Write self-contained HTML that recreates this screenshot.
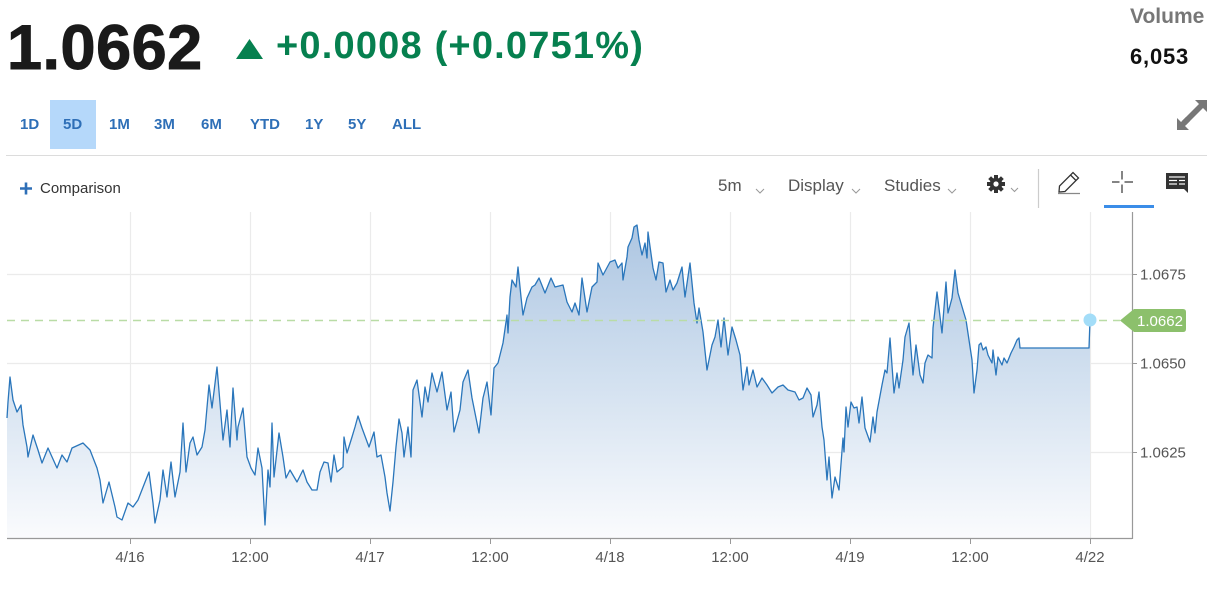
<!DOCTYPE html>
<html><head><meta charset="utf-8">
<style>
html,body{margin:0;padding:0;background:#fff;}
body{width:1212px;height:590px;position:relative;overflow:hidden;font-family:"Liberation Sans",Arial,sans-serif;}
.a{position:absolute;white-space:nowrap;}
.big{left:7px;top:17px;font-size:63px;line-height:63px;font-weight:bold;color:#1a1a1a;letter-spacing:0.5px;-webkit-text-stroke:1px #1a1a1a;}
.chg{left:276px;top:27px;font-size:38px;line-height:38px;font-weight:bold;color:#06804f;letter-spacing:1.2px;}
.rng{top:117px;font-size:15px;line-height:15px;font-weight:bold;color:#2e6fb7;}
.tb{top:177px;font-size:17px;line-height:17px;color:#555;}
</style></head><body>
<div class="a big">1.0662</div>
<svg class="a" style="left:236px;top:39px" width="28" height="21"><polygon points="13.5,0 27,20 0,20" fill="#06804f"/></svg>
<div class="a chg">+0.0008 (+0.0751%)</div>
<div class="a" style="left:1130px;top:6px;font-size:21px;line-height:21px;font-weight:bold;color:#777;">Volume</div>
<div class="a" style="left:1130px;top:46px;font-size:22px;line-height:22px;font-weight:bold;color:#111;letter-spacing:0.8px;">6,053</div>

<div class="a" style="left:50px;top:100px;width:46px;height:49px;background:#b5d8fa;"></div>
<div class="a rng" style="left:20px;">1D</div>
<div class="a rng" style="left:63px;">5D</div>
<div class="a rng" style="left:109px;">1M</div>
<div class="a rng" style="left:154px;">3M</div>
<div class="a rng" style="left:201px;">6M</div>
<div class="a rng" style="left:250px;">YTD</div>
<div class="a rng" style="left:305px;">1Y</div>
<div class="a rng" style="left:348px;">5Y</div>
<div class="a rng" style="left:392px;">ALL</div>
<div class="a" style="left:6px;top:155px;width:1201px;height:1px;background:#dcdcdc;"></div>

<div class="a" style="left:40px;top:181px;font-size:15px;line-height:15px;color:#333;">Comparison</div>
<div class="a tb" style="left:718px;">5m</div>
<div class="a tb" style="left:788px;">Display</div>
<div class="a tb" style="left:884px;">Studies</div>

<svg class="a" style="left:0;top:0" width="1212" height="590" xmlns="http://www.w3.org/2000/svg">
<defs>
<linearGradient id="g" x1="0" y1="225" x2="0" y2="538" gradientUnits="userSpaceOnUse">
<stop offset="0" stop-color="#adc6e2"/>
<stop offset="0.5" stop-color="#d3e1f0"/>
<stop offset="1" stop-color="#fafbfd"/>
</linearGradient>
</defs>
<!-- plus -->
<path d="M20 188.5H32M26 182.5V194.5" stroke="#2e6fb7" stroke-width="2.6"/>
<!-- chevrons -->
<g fill="none" stroke="#999" stroke-width="1">
<polyline points="756,189 760,193 764,189"/>
<polyline points="852,189 856,193 860,189"/>
<polyline points="948,189 952,193 956,189"/>
<polyline points="1011,188 1014.5,191.5 1018,188"/>
</g>
<!-- gear -->
<g transform="translate(996,184)" fill="#333">
<circle r="6.3"/>
<g>
<rect x="-2" y="-9" width="4" height="18"/>
<rect x="-2" y="-9" width="4" height="18" transform="rotate(45)"/>
<rect x="-2" y="-9" width="4" height="18" transform="rotate(90)"/>
<rect x="-2" y="-9" width="4" height="18" transform="rotate(135)"/>
</g>
<circle r="2.6" fill="#fff"/>
</g>
<line x1="1038.5" y1="169" x2="1038.5" y2="208" stroke="#ccc" stroke-width="1.2"/>
<!-- pencil -->
<g fill="none" stroke="#333" stroke-width="1.3">
<path d="M1059 192 L1059.5 186 L1073 172.5 L1078.5 178 L1065 191.5 Z"/>
<line x1="1070.5" y1="175" x2="1076" y2="180.5"/>
<line x1="1058" y1="193.5" x2="1080" y2="193.5" stroke="#888"/>
</g>
<!-- crosshair -->
<g stroke="#333" stroke-width="1.2">
<line x1="1112" y1="182" x2="1119.5" y2="182"/>
<line x1="1124.5" y1="182" x2="1133" y2="182"/>
<line x1="1122" y1="171" x2="1122" y2="179.5"/>
<line x1="1122" y1="184.5" x2="1122" y2="193"/>
</g>
<rect x="1104" y="205" width="50" height="3" fill="#3b8de8"/>
<!-- comment -->
<path d="M1166 173H1188V193L1184 189H1166Z" fill="#333"/>
<g stroke="#fff" stroke-width="1.2">
<line x1="1169" y1="177" x2="1185" y2="177"/>
<line x1="1169" y1="180.5" x2="1177" y2="180.5"/>
<line x1="1179" y1="180.5" x2="1185" y2="180.5"/>
<line x1="1169" y1="184" x2="1177" y2="184"/>
<line x1="1179" y1="184" x2="1185" y2="184"/>
</g>
<!-- expand -->
<g fill="#777">
<polygon points="1207,100 1207,112 1203,108 1186,125 1182,121 1199,104 1195,100"/>
<polygon points="1177,130 1177,118 1181,122 1186,117 1190,121 1185,126 1189,130"/>
</g>

<!-- grid -->
<g stroke="#ebebeb" stroke-width="1.2">
<line x1="7" y1="274.5" x2="1132" y2="274.5"/>
<line x1="7" y1="363.5" x2="1132" y2="363.5"/>
<line x1="7" y1="452.5" x2="1132" y2="452.5"/>
<line x1="130.5" y1="212" x2="130.5" y2="538"/>
<line x1="250.5" y1="212" x2="250.5" y2="538"/>
<line x1="370.5" y1="212" x2="370.5" y2="538"/>
<line x1="490.5" y1="212" x2="490.5" y2="538"/>
<line x1="610.5" y1="212" x2="610.5" y2="538"/>
<line x1="730.5" y1="212" x2="730.5" y2="538"/>
<line x1="850.5" y1="212" x2="850.5" y2="538"/>
<line x1="970.5" y1="212" x2="970.5" y2="538"/>
<line x1="1090.5" y1="212" x2="1090.5" y2="538"/>
</g>

<path fill="url(#g)" d="M7,538 L7,418 8,402 10,377 13,400 17,412 21,405 23,425 27,447 28,457 33,435 38,450 42,463 48,448 57,468 62,455 67,462 72,448 83,443 90,450 97,468 100,480 103,503 109,482 115,507 117,517 122,520 128,503 133,507 138,500 147,477 149,472 153,503 155,523 160,500 163,470 167,497 171,462 175,497 180,472 183,423 186,472 190,443 193,437 197,455 202,447 205,430 209,385 212,408 217,367 220,403 223,440 227,410 230,447 233,388 237,440 238,427 243,408 247,457 251,468 255,475 258,448 262,468 265,525 268,470 270,487 272,423 274,477 279,433 283,457 286,478 290,470 297,482 303,470 307,482 312,490 317,490 320,472 324,462 328,463 331,482 334,455 337,472 343,467 344,437 347,453 352,437 355,427 358,416 362,428 369,447 374,432 377,457 381,455 385,477 387,493 390,511 393,482 396,447 399,419 402,433 404,457 408,427 411,457 413,390 417,380 422,417 425,387 428,402 432,373 437,392 442,372 447,410 451,392 454,432 460,410 463,382 468,370 472,398 479,433 483,398 487,382 491,415 494,368 498,363 502,347 503,343 507,315 508,333 510,297 512,280 516,287 518,267 521,297 523,315 527,298 532,287 535,285 539,278 545,293 551,278 555,287 563,285 567,302 572,312 575,303 579,315 582,278 587,312 592,287 597,282 598,263 603,275 610,262 615,260 618,268 622,263 623,280 627,257 628,247 632,238 634,227 637,225 639,240 642,255 645,243 647,258 648,232 653,268 656,280 659,262 663,263 666,292 670,280 673,290 677,283 682,267 685,297 690,263 694,303 697,323 699,308 703,332 707,370 712,345 715,337 718,320 721,347 724,318 728,355 732,327 736,340 740,355 743,390 747,367 749,385 753,370 757,387 762,378 767,385 772,393 778,387 783,385 788,390 795,392 799,400 803,398 807,388 811,395 813,417 817,405 819,392 822,427 824,440 827,480 829,457 832,498 835,477 839,490 843,438 844,452 846,407 848,427 851,402 854,408 857,407 859,423 862,397 865,428 870,442 873,417 875,433 877,412 882,385 885,370 887,373 890,338 894,393 897,373 899,388 903,360 905,337 909,323 913,375 916,345 920,375 923,383 925,363 928,355 932,358 933,328 937,292 942,333 946,282 948,313 952,298 955,270 958,293 963,310 966,320 969,340 972,360 974,393 977,370 979,345 981,343 983,350 986,347 988,355 992,363 993,350 996,375 998,357 1002,365 1004,358 1007,363 1011,353 1014,347 1017,340 1019,338 1020,348 1089,348 1090,320 L1090,538 Z"/>

<polyline fill="none" stroke="#2a76bb" stroke-width="1.3" stroke-linejoin="round" points="7,418 8,402 10,377 13,400 17,412 21,405 23,425 27,447 28,457 33,435 38,450 42,463 48,448 57,468 62,455 67,462 72,448 83,443 90,450 97,468 100,480 103,503 109,482 115,507 117,517 122,520 128,503 133,507 138,500 147,477 149,472 153,503 155,523 160,500 163,470 167,497 171,462 175,497 180,472 183,423 186,472 190,443 193,437 197,455 202,447 205,430 209,385 212,408 217,367 220,403 223,440 227,410 230,447 233,388 237,440 238,427 243,408 247,457 251,468 255,475 258,448 262,468 265,525 268,470 270,487 272,423 274,477 279,433 283,457 286,478 290,470 297,482 303,470 307,482 312,490 317,490 320,472 324,462 328,463 331,482 334,455 337,472 343,467 344,437 347,453 352,437 355,427 358,416 362,428 369,447 374,432 377,457 381,455 385,477 387,493 390,511 393,482 396,447 399,419 402,433 404,457 408,427 411,457 413,390 417,380 422,417 425,387 428,402 432,373 437,392 442,372 447,410 451,392 454,432 460,410 463,382 468,370 472,398 479,433 483,398 487,382 491,415 494,368 498,363 502,347 503,343 507,315 508,333 510,297 512,280 516,287 518,267 521,297 523,315 527,298 532,287 535,285 539,278 545,293 551,278 555,287 563,285 567,302 572,312 575,303 579,315 582,278 587,312 592,287 597,282 598,263 603,275 610,262 615,260 618,268 622,263 623,280 627,257 628,247 632,238 634,227 637,225 639,240 642,255 645,243 647,258 648,232 653,268 656,280 659,262 663,263 666,292 670,280 673,290 677,283 682,267 685,297 690,263 694,303 697,323 699,308 703,332 707,370 712,345 715,337 718,320 721,347 724,318 728,355 732,327 736,340 740,355 743,390 747,367 749,385 753,370 757,387 762,378 767,385 772,393 778,387 783,385 788,390 795,392 799,400 803,398 807,388 811,395 813,417 817,405 819,392 822,427 824,440 827,480 829,457 832,498 835,477 839,490 843,438 844,452 846,407 848,427 851,402 854,408 857,407 859,423 862,397 865,428 870,442 873,417 875,433 877,412 882,385 885,370 887,373 890,338 894,393 897,373 899,388 903,360 905,337 909,323 913,375 916,345 920,375 923,383 925,363 928,355 932,358 933,328 937,292 942,333 946,282 948,313 952,298 955,270 958,293 963,310 966,320 969,340 972,360 974,393 977,370 979,345 981,343 983,350 986,347 988,355 992,363 993,350 996,375 998,357 1002,365 1004,358 1007,363 1011,353 1014,347 1017,340 1019,338 1020,348 1089,348 1090,320"/>

<!-- dashed last price line -->
<line x1="7" y1="320.5" x2="1120" y2="320.5" stroke="#b9dca6" stroke-width="1.6" stroke-dasharray="8,6"/>
<circle cx="1090" cy="320" r="6.5" fill="#a3ddf8"/>

<!-- axes -->
<line x1="7" y1="538.5" x2="1132" y2="538.5" stroke="#999" stroke-width="1.2"/>
<line x1="1132.5" y1="212" x2="1132.5" y2="539" stroke="#999" stroke-width="1.2"/>
<g stroke="#999" stroke-width="1">
<line x1="130.5" y1="538" x2="130.5" y2="544"/>
<line x1="250.5" y1="538" x2="250.5" y2="544"/>
<line x1="370.5" y1="538" x2="370.5" y2="544"/>
<line x1="490.5" y1="538" x2="490.5" y2="544"/>
<line x1="610.5" y1="538" x2="610.5" y2="544"/>
<line x1="730.5" y1="538" x2="730.5" y2="544"/>
<line x1="850.5" y1="538" x2="850.5" y2="544"/>
<line x1="970.5" y1="538" x2="970.5" y2="544"/>
<line x1="1090.5" y1="538" x2="1090.5" y2="544"/>
<line x1="1132" y1="274.5" x2="1137" y2="274.5"/>
<line x1="1132" y1="363.5" x2="1137" y2="363.5"/>
<line x1="1132" y1="452.5" x2="1137" y2="452.5"/>
</g>
<g font-family="Liberation Sans, Arial, sans-serif" font-size="15" fill="#555">
<text x="1140" y="279.5">1.0675</text>
<text x="1140" y="368.5">1.0650</text>
<text x="1140" y="457.5">1.0625</text>
</g>
<g font-family="Liberation Sans, Arial, sans-serif" font-size="15" fill="#555" text-anchor="middle">
<text x="130" y="562">4/16</text>
<text x="250" y="562">12:00</text>
<text x="370" y="562">4/17</text>
<text x="490" y="562">12:00</text>
<text x="610" y="562">4/18</text>
<text x="730" y="562">12:00</text>
<text x="850" y="562">4/19</text>
<text x="970" y="562">12:00</text>
<text x="1090" y="562">4/22</text>
</g>
<!-- price tag -->
<path d="M1120 320.5 L1134 309 H1183 Q1186 309 1186 312 V329 Q1186 332 1183 332 H1134 Z" fill="#8cc06c"/>
<text x="1160" y="326" font-family="Liberation Sans, Arial, sans-serif" font-size="15" fill="#fff" text-anchor="middle">1.0662</text>
</svg>
</body></html>
